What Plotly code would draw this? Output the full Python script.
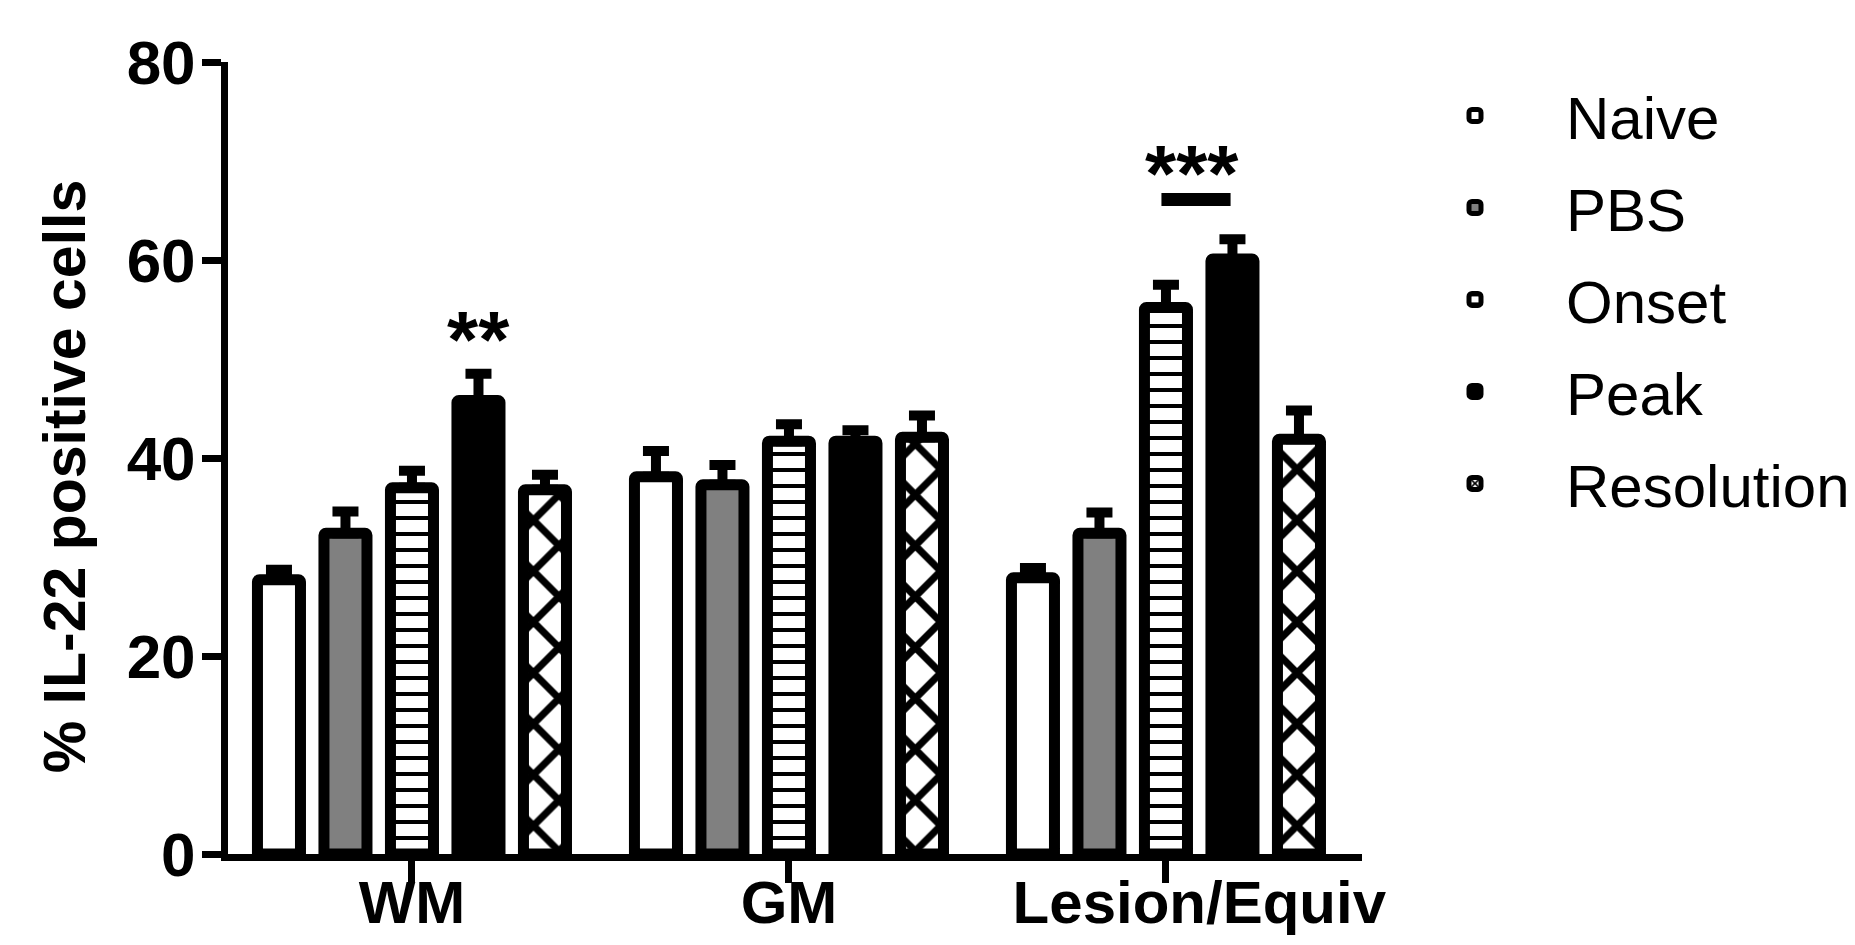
import plotly.graph_objects as go

# ---------------- data ----------------
categories = ["WM", "GM", "Lesion/Equiv"]
series_names = ["Naive", "PBS", "Onset", "Peak", "Resolution"]

naive = [27.7, 38.1, 27.9]
pbs = [32.4, 37.3, 32.4]
onset = [37.0, 41.7, 55.2]
peak = [45.8, 41.7, 60.1]
resolution = [36.8, 42.1, 41.9]

naive_err = [1.0, 2.6, 1.0]
pbs_err = [2.2, 2.0, 2.1]
onset_err = [1.7, 1.7, 2.3]
peak_err = [2.7, 1.1, 2.0]
resolution_err = [1.5, 2.2, 2.9]

y_ticks = [0, 20, 40, 60, 80]
y_title = "% IL-22 positive cells"

# significance marks
sig_labels = ["**", "***"]
sig_category = [0, 2]
sig_from = [3, 2]
sig_to = [3, 3]
sig_text_y = [52.0, 68.7]
sig_line_y = [None, 66.1]
sig_xshift = [0, -7]

# ---------------- styling ----------------
values = [naive, pbs, onset, peak, resolution]
errors = [naive_err, pbs_err, onset_err, peak_err, resolution_err]
fills = ["white", "#808080", "white", "black", "white"]
patterns = [
    dict(shape=""),
    dict(shape=""),
    dict(shape="-", fgcolor="black", bgcolor="white", size=16, solidity=0.25, fillmode="replace"),
    dict(shape=""),
    dict(shape="x", fgcolor="black", bgcolor="white", size=36, solidity=0.36, fillmode="replace"),
]

BARGAP = 0.118
NSER = len(series_names)
slot = (1 - BARGAP) / NSER

fig = go.Figure()
for name, vals, errs, fc, pat in zip(series_names, values, errors, fills, patterns):
    fig.add_trace(go.Bar(
        name=name,
        x=list(range(len(categories))),
        y=vals,
        legendgroup=name,
        marker=dict(color=fc, pattern=pat, line=dict(color="black", width=11), cornerradius=2),
        error_y=dict(type="data", symmetric=False, array=errs, arrayminus=[0] * len(errs),
                     color="black", thickness=10, width=13),
    ))

FONT = "Liberation Sans, Arial, Helvetica, sans-serif"

annotations = []
shapes = []
for lab, ci, a, b, ty, ly, xs in zip(sig_labels, sig_category, sig_from, sig_to, sig_text_y, sig_line_y, sig_xshift):
    xa = ci + (a - (NSER - 1) / 2) * slot
    xb = ci + (b - (NSER - 1) / 2) * slot
    annotations.append(dict(x=(xa + xb) / 2, y=ty, xref="x", yref="y", text=lab, showarrow=False,
                            xshift=xs,
                            font=dict(family=FONT, size=80, color="black", weight="bold"),
                            xanchor="center", yanchor="middle"))
    if ly is not None:
        shapes.append(dict(type="line", xref="x", yref="y", x0=xa - 0.012, x1=xb - 0.005, y0=ly, y1=ly,
                           line=dict(color="black", width=13)))

# y-axis title (rotated text)
annotations.append(dict(x=-0.1437, y=0.477, xref="paper", yref="paper", text=y_title, showarrow=False,
                        textangle=-90, xanchor="center", yanchor="middle",
                        font=dict(family=FONT, size=59, color="black", weight="bold")))

fig.update_layout(
    width=1855, height=945,
    margin=dict(l=228, r=493, t=62, b=91, autoexpand=False),
    paper_bgcolor="white", plot_bgcolor="white",
    barmode="group", bargap=BARGAP, bargroupgap=0.353,
    font=dict(family=FONT, color="black"),
    showlegend=True,
    legend=dict(
        x=1.0194, y=0.99, xanchor="left", yanchor="top",
        font=dict(family=FONT, size=60, color="black"),
        itemwidth=172, traceorder="grouped", tracegroupgap=11,
        bgcolor="rgba(0,0,0,0)",
    ),
    annotations=annotations,
    shapes=shapes,
)

fig.update_xaxes(
    type="linear", automargin=False,
    range=[-0.488, 2.52],
    tickmode="array", tickvals=list(range(len(categories))),
    ticktext=["WM", "GM", "\u00a0\u00a0\u00a0\u00a0Lesion/Equiv"],
    showline=True, linecolor="black", linewidth=7,
    ticks="outside", ticklen=22, tickwidth=7, tickcolor="black",
    ticklabelstandoff=-32,
    tickfont=dict(family=FONT, size=60, color="black", weight="bold"),
    showgrid=False, zeroline=False,
)
fig.update_yaxes(
    range=[0, 80], automargin=False,
    tickmode="array", tickvals=y_ticks,
    showline=True, linecolor="black", linewidth=7,
    ticks="outside", ticklen=19, tickwidth=7, tickcolor="black",
    ticklabelstandoff=-6,
    tickfont=dict(family=FONT, size=62, color="black", weight="bold"),
    showgrid=False, zeroline=False,
)

fig.write_html("out.html", config={"displayModeBar": False},
               post_script="document.body.style.margin='0';document.body.style.overflow='hidden';")
